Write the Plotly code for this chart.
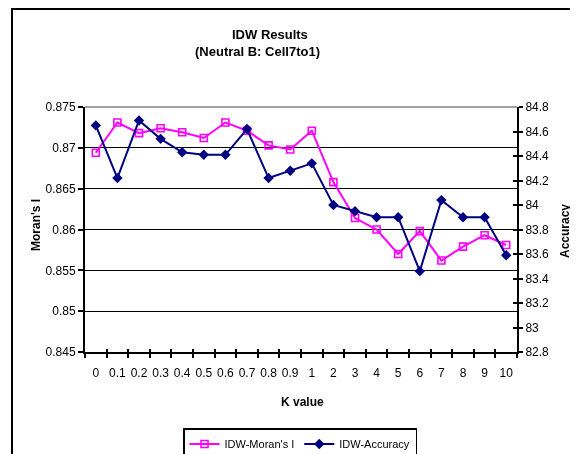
import plotly.graph_objects as go

k_values = ["0", "0.1", "0.2", "0.3", "0.4", "0.5", "0.6", "0.7", "0.8", "0.9",
            "1", "2", "3", "4", "5", "6", "7", "8", "9", "10"]
morans_i = [0.8694, 0.8731, 0.8718, 0.8724, 0.8719, 0.8712, 0.8731, 0.8721, 0.8703, 0.8698,
            0.8721, 0.8658, 0.8614, 0.8600, 0.8570, 0.8598, 0.8562, 0.8579, 0.8593, 0.8581]
accuracy = [84.65, 84.22, 84.69, 84.54, 84.43, 84.41, 84.41, 84.62, 84.22, 84.28,
            84.34, 84.00, 83.95, 83.90, 83.90, 83.46, 84.04, 83.90, 83.90, 83.59]

FONT = "Liberation Sans, Arial, sans-serif"
OFF = 8  # page body margin
W, H = 578 - OFF, 454 - OFF
# plot area in window pixels: x 85..517, y 107..352
L, T = 85 - OFF, 107 - OFF
R, B = W - (517 - OFF), H - (352 - OFF)
PW, PH = W - L - R, H - T - B

def px_x(x):
    return (x - OFF - L) / PW

def px_y(y):
    return (H - B - (y - OFF)) / PH

xrange = [-0.5, len(k_values) - 0.5]

fig = go.Figure()
fig.add_trace(go.Scatter(
    x=k_values, y=morans_i, name="IDW-Moran's I", mode="lines+markers",
    line=dict(color="#FF00FF", width=2),
    marker=dict(symbol="square-open", size=7, color="#FF00FF", line=dict(width=1.6, color="#FF00FF")),
    xaxis="x", yaxis="y"))
fig.add_trace(go.Scatter(
    x=k_values, y=accuracy, name="IDW-Accuracy", mode="lines+markers",
    line=dict(color="#000080", width=2),
    marker=dict(symbol="diamond", size=8, color="#000080"),
    xaxis="x", yaxis="y2"))
# invisible helper so overlay axes (inside half of cross ticks) render
fig.add_trace(go.Scatter(x=k_values, y=accuracy, mode="markers", opacity=0,
                         showlegend=False, hoverinfo="skip", xaxis="x2", yaxis="y3"))

fig.update_layout(
    width=W, height=H,
    margin=dict(l=L, r=R, t=T, b=B, pad=0, autoexpand=False),
    paper_bgcolor="white", plot_bgcolor="white",
    font=dict(family=FONT, size=12, color="black"),
    showlegend=True,
    legend=dict(orientation="h", xref="container", yref="container",
                x=(300 - OFF) / W, xanchor="center", y=(H - (428 - OFF)) / H, yanchor="top",
                bordercolor="black", borderwidth=1.5, font=dict(size=11, family=FONT),
                itemwidth=30, tracegroupgap=0, bgcolor="white"),
    xaxis=dict(type="category", categoryorder="array", categoryarray=k_values, range=xrange,
               showline=True, linecolor="black", linewidth=2, showgrid=False,
               ticks="outside", ticklen=4, tickwidth=1.5, tickcolor="black", tickson="boundaries",
               tickfont=dict(size=12), tickangle=0, ticklabelstandoff=9,
               automargin=False, zeroline=False),
    xaxis2=dict(type="category", categoryorder="array", categoryarray=k_values, range=xrange,
                overlaying="x", showline=False, showgrid=False,
                ticks="inside", ticklen=3, tickwidth=1.5, tickcolor="black", tickson="boundaries",
                showticklabels=False, side="bottom", anchor="y", automargin=False),
    yaxis=dict(range=[0.845, 0.875], dtick=0.005, tick0=0.845,
               showline=True, linecolor="black", linewidth=2,
               showgrid=True, gridcolor="black", gridwidth=1,
               ticks="outside", ticklen=5, tickwidth=1.5, tickcolor="black",
               tickfont=dict(size=12), zeroline=False, automargin=False),
    yaxis2=dict(range=[82.8, 84.8], dtick=0.2, tick0=82.8, overlaying="y", side="right",
                showline=True, linecolor="black", linewidth=2, showgrid=False,
                ticks="outside", ticklen=4, tickwidth=1.5, tickcolor="black",
                tickfont=dict(size=12), zeroline=False, anchor="x", automargin=False),
    yaxis3=dict(range=[82.8, 84.8], dtick=0.2, tick0=82.8, overlaying="y", side="right",
                showline=False, showgrid=False, ticks="inside", ticklen=4, tickwidth=1.5,
                tickcolor="black", showticklabels=False, zeroline=False, anchor="x2",
                automargin=False),
)

annotations = [
    dict(text="<b>IDW Results</b>", x=px_x(270), y=px_y(34), font=dict(size=13)),
    dict(text="<b>(Neutral B: Cell7to1)</b>", x=px_x(257), y=px_y(52), font=dict(size=13)),
    dict(text="<b>Moran's I</b>", x=px_x(36), y=px_y(225), textangle=-90, font=dict(size=12)),
    dict(text="<b>Accuracy</b>", x=px_x(565), y=px_y(231), textangle=-90, font=dict(size=12)),
    dict(text="<b>K value</b>", x=px_x(302), y=px_y(402), font=dict(size=12)),
]
for a in annotations:
    fig.add_annotation(xref="paper", yref="paper", showarrow=False,
                       xanchor="center", yanchor="middle", **a)

# chart-area border (cut off at the right and bottom of the picture)
fig.add_shape(type="rect", xref="paper", yref="paper", layer="below",
              x0=px_x(12), x1=px_x(640), y0=px_y(520), y1=px_y(9),
              line=dict(color="black", width=2), fillcolor="rgba(0,0,0,0)")
# gray plot-area top border
fig.add_shape(type="line", xref="paper", yref="paper", layer="above",
              x0=0, x1=1, y0=1, y1=1, line=dict(color="#808080", width=1.5))

fig.write_html("out.html")
